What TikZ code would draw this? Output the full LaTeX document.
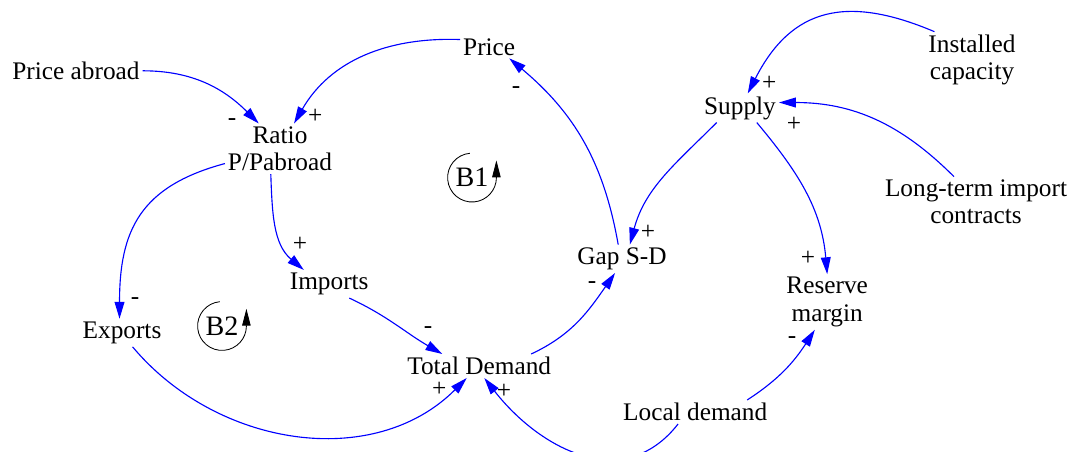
\documentclass[tikz,border=0pt]{standalone}
\usepackage{fontspec}
\setmainfont{Liberation Serif}
\usetikzlibrary{arrows.meta}

\begin{document}
\begin{tikzpicture}[
    var/.style={inner sep=2pt, align=center, font=\fontsize{18}{19.5}\selectfont},
    sgn/.style={inner sep=0pt, font=\fontsize{18}{19.5}\selectfont},
    looplbl/.style={inner sep=0pt, font=\fontsize{20}{22}\selectfont},
    link/.style={blue, line width=0.8pt, -{Triangle[length=12pt, width=7pt]}},
    loopsym/.style={black, line width=0.6pt, -{Triangle[length=12pt, width=6pt]}}]
    \clip (0,0) rectangle (26.8,11.3);

    % Draw nodes
    \node[var] (pabroad) at (1.9,9.53) {Price abroad};
    \node[var] (price) at (12.23,10.13) {Price};
    \node[var] (ratio) at (7.0,7.58) {Ratio\\P/Pabroad};
    \node[var] (instcap) at (24.3,9.8) {Installed\\capacity};
    \node[var] (supply) at (18.5,8.6) {Supply};
    \node[var] (ltic) at (24.4,6.25) {Long-term import\\contracts};
    \node[var] (imports) at (8.23,4.2) {Imports};
    \node[var] (gap) at (15.55,4.83) {Gap S-D};
    \node[var] (exports) at (3.05,2.98) {Exports};
    \node[var] (reserve) at (20.68,3.75) {Reserve\\margin};
    \node[var] (totdem) at (11.98,2.15) {Total Demand};
    \node[var] (locdem) at (17.38,1.0) {Local demand};

    % Loop markers
    \node[looplbl] (b1) at (11.8,6.86) {B1};
    \node[looplbl] (b2) at (5.55,3.15) {B2};
    \draw[loopsym] (b1.center) ++(95:0.61) arc[start angle=95, end angle=360, radius=0.61] -- ++(0,0.43);
    \draw[loopsym] (b2.center) ++(95:0.61) arc[start angle=95, end angle=360, radius=0.61] -- ++(0,0.43);

    % Draw connections
    \draw[link] (pabroad.east) to[out=0, in=135] (ratio.130);
    \draw[link] (price.166) to[out=178, in=60] (ratio.61);
    \draw[link] (ratio.195) to[out=195, in=90, looseness=1.2] (exports.100);
    \draw[link] (ratio.250) to[out=-88, in=140] (imports.151);
    \draw[link] (imports.-35) to[out=-25, in=150] (totdem.162);
    \draw[link] (exports.-53) to[out=-50, in=225] (totdem.224);
    \draw[link] (totdem.13) to[out=25, in=235] (gap.244);
    \draw[link] (gap.105) to[out=100, in=-40] (price.-30);
    \draw[link] (supply.212) to[out=225, in=75] (gap.61);
    \draw[link] (instcap.143) to[out=157, in=63, looseness=1.25] (supply.62);
    \draw[link] (ltic.131) to[out=135, in=0] (supply.8);
    \draw[link] (supply.-41) to[out=-50, in=95] (reserve.90);
    \draw[link] (locdem.13) to[out=33, in=237] (reserve.246);
    \draw[link] (locdem.215) to[out=232, in=-52, looseness=1.15] (totdem.-67);

    % Labels
    \node[sgn] (s1) at (5.8,8.25) {-};
    \node[sgn] (s2) at (7.88,8.38) {+};
    \node[sgn] (s3) at (3.38,3.78) {-};
    \node[sgn] (s4) at (7.5,5.18) {+};
    \node[sgn] (s5) at (10.7,3.05) {-};
    \node[sgn] (s6) at (10.98,1.57) {+};
    \node[sgn] (s7) at (14.8,4.18) {-};
    \node[sgn] (s8) at (12.9,9.05) {-};
    \node[sgn] (s9) at (16.2,5.48) {+};
    \node[sgn] (s10) at (19.23,9.22) {+};
    \node[sgn] (s11) at (19.85,8.2) {+};
    \node[sgn] (s12) at (20.2,4.83) {+};
    \node[sgn] (s13) at (19.8,2.8) {-};
    \node[sgn] (s14) at (12.6,1.52) {+};
\end{tikzpicture}
\end{document}
